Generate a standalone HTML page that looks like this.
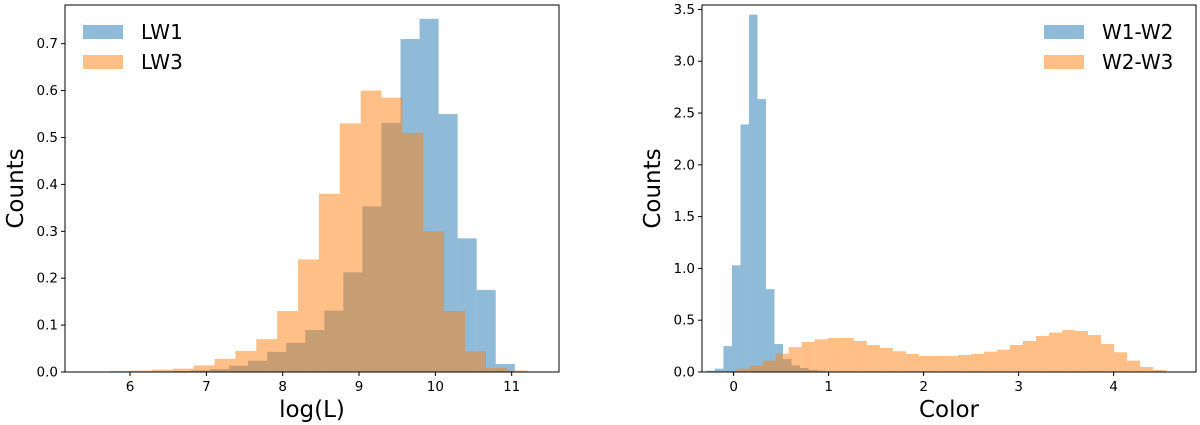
<!DOCTYPE html>
<html><head><meta charset="utf-8"><style>
body{margin:0;background:#fff;}
svg{display:block;font-family:"DejaVu Sans","Liberation Sans",sans-serif;}
</style></head><body>
<svg id="fig" width="1200" height="425" viewBox="0 0 1200 425" xmlns="http://www.w3.org/2000/svg"></svg>
<script>
// ---- Left chart data ----
const lw3Start = 5.74, lw3Width = 0.2735;
const lw3Counts = [0.002,0.003,0.005,0.007,0.014,0.028,0.045,0.07,0.13,0.24,0.38,0.53,0.60,0.585,0.51,0.30,0.13,0.044,0.0085,0.003];
const lw1Start = 6.30, lw1Width = 0.2495;
const lw1Counts = [0.001,0.002,0.0035,0.0064,0.0135,0.024,0.043,0.062,0.0895,0.131,0.2125,0.353,0.531,0.71,0.753,0.55,0.285,0.175,0.017];
const leftXTicks = [6,7,8,9,10,11];
const leftYTicks = [0.0,0.1,0.2,0.3,0.4,0.5,0.6,0.7];
// ---- Right chart data ----
const w12Start = -0.286, w12Width = 0.0895;
const w12Counts = [0.013,0.032,0.25,1.03,2.39,3.45,2.635,0.80,0.27,0.125,0.064,0.039,0.022,0.013,0.006];
const w23Start = -0.105, w23Width = 0.137;
const w23Counts = [0.01,0.032,0.06,0.11,0.177,0.24,0.29,0.315,0.328,0.328,0.30,0.26,0.232,0.2,0.174,0.154,0.154,0.154,0.164,0.174,0.196,0.215,0.26,0.30,0.348,0.38,0.405,0.396,0.357,0.27,0.19,0.11,0.048,0.02];
const rightXTicks = [0,1,2,3,4];
const rightYTicks = [0.0,0.5,1.0,1.5,2.0,2.5,3.0,3.5];

const NS = "http://www.w3.org/2000/svg";
const svg = document.getElementById('fig');
function mk(tag, attrs, parent){const e=document.createElementNS(NS,tag);for(const k in attrs)e.setAttribute(k,attrs[k]);(parent||svg).appendChild(e);return e;}

function chart(cfg){
  const g = mk('g',{});
  
  
  const X = v => cfg.x0 + (v - cfg.xmin) / (cfg.xmax - cfg.xmin) * (cfg.x1 - cfg.x0);
  const Y = v => cfg.y1 - (v - 0) / (cfg.ymax) * (cfg.y1 - cfg.y0);
  cfg.series.forEach(s => {
    const sg = mk('g',{},g);
    
    
    s.counts.forEach((c,i) => {
      const a = s.start + i*s.width, b = a + s.width;
      const r = mk('rect',{x:X(a),y:Y(c),width:X(b)-X(a),height:Y(0)-Y(c),fill:s.color,'fill-opacity':0.5},sg);
      
      
    });
  });
  const frame = mk('rect',{x:cfg.x0,y:cfg.y0,width:cfg.x1-cfg.x0,height:cfg.y1-cfg.y0,fill:'none',stroke:'#000','stroke-width':1},g);
  
  
  cfg.xticks.forEach(t => {
    mk('line',{x1:X(t),x2:X(t),y1:cfg.y1,y2:cfg.y1+4,stroke:'#000'},g);
    const tx = mk('text',{x:X(t),y:cfg.y1+19,'font-size':13.5,'text-anchor':'middle',fill:'#000'},g);
    tx.textContent = t;
    
    
  });
  cfg.yticks.forEach(t => {
    mk('line',{x1:cfg.x0-4,x2:cfg.x0,y1:Y(t),y2:Y(t),stroke:'#000'},g);
    const tx = mk('text',{x:cfg.x0-7,y:Y(t)+4.5,'font-size':13.5,'text-anchor':'end',fill:'#000'},g);
    tx.textContent = t.toFixed(1);
    
    
  });
  const xl = mk('text',{x:(cfg.x0+cfg.x1)/2,y:417,'font-size':23,'text-anchor':'middle',fill:'#000'},g);
  xl.textContent = cfg.xlabel;
  
  
  const yx = cfg.x0 - 42, ym = (cfg.y0+cfg.y1)/2;
  const yl = mk('text',{x:yx,y:ym,'font-size':23,'text-anchor':'middle',fill:'#000',transform:`rotate(-90 ${yx} ${ym})`},g);
  yl.textContent = 'Counts';
  
  
  cfg.series.forEach((s,i) => {
    const lg = mk('g',{},g);
    
    
    mk('rect',{x:cfg.legX,y:25+i*30,width:40,height:14,fill:s.color,'fill-opacity':0.5},lg);
    const t = mk('text',{x:cfg.legX+58,y:39+i*30,'font-size':20,fill:'#000'},lg);
    t.textContent = s.label;
  });
}

chart({name:'luminosity-histogram-chart',x0:65,x1:559,y0:5,y1:372,xmin:5.148,xmax:11.62,ymax:0.7825,
  xticks:leftXTicks,yticks:leftYTicks,xlabel:'log(L)',legX:83,
  series:[{key:'lw1',label:'LW1',start:lw1Start,width:lw1Width,counts:lw1Counts,color:'#1f77b4'},
          {key:'lw3',label:'LW3',start:lw3Start,width:lw3Width,counts:lw3Counts,color:'#ff7f0e'}]});
chart({name:'color-histogram-chart',x0:702,x1:1196,y0:5,y1:372,xmin:-0.333,xmax:4.867,ymax:3.543,
  xticks:rightXTicks,yticks:rightYTicks,xlabel:'Color',legX:1044,
  series:[{key:'w1-w2',label:'W1-W2',start:w12Start,width:w12Width,counts:w12Counts,color:'#1f77b4'},
          {key:'w2-w3',label:'W2-W3',start:w23Start,width:w23Width,counts:w23Counts,color:'#ff7f0e'}]});
</script>
</body></html>
